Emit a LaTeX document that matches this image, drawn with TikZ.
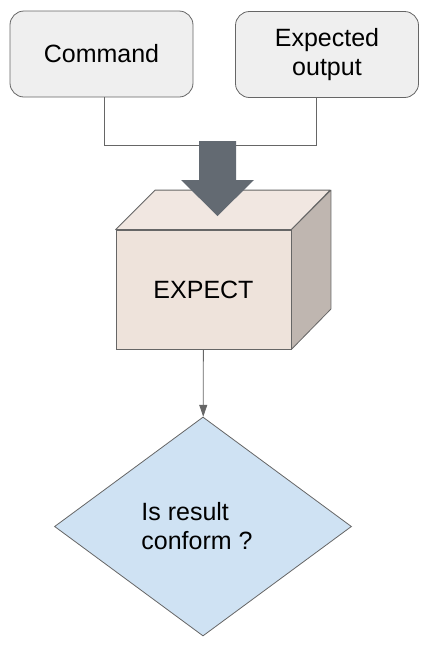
\documentclass[tikz,border=0pt]{standalone}
\usepackage{fontspec}
\setmainfont{Liberation Sans}
\usetikzlibrary{shapes,arrows.meta}
\definecolor{boxgray}{HTML}{EFEFEF}
\definecolor{linegray}{HTML}{666666}
\definecolor{arrowgray}{HTML}{636A72}
\definecolor{cubefront}{HTML}{EEE3DB}
\definecolor{cubetop}{HTML}{F1E7E1}
\definecolor{cubeside}{HTML}{BFB6B0}
\definecolor{askblue}{HTML}{CFE2F3}

\begin{document}
\begin{tikzpicture}
	[
		x=1pt, y=-1pt,
		every node/.style = {font=\fontsize{25}{29}\selectfont, draw=linegray, line width=0.8pt, inner sep=0pt},
		inbox/.style = {rounded corners=14pt, fill=boxgray, minimum width=183pt, minimum height=86pt, align=center},
		face/.style = {draw=linegray, line width=0.8pt, line join=round},
	]
  \useasboundingbox (0,0) rectangle (427,646);

  \node[inbox] (cmd) at (101.5,54) {Command};
  \node[inbox] (exp) at (327,54.5) {Expected\\output};
  \node[fill=cubefront, minimum width=175pt, minimum height=119pt] (expect) at (203.5,289.5) {EXPECT};
  \node[diamond, fill=askblue, minimum width=297pt, minimum height=219pt, align=left] (ask) at (203,526.5) {Is result\\conform ?\hspace*{12pt}};

  % top and side of the cube
  \filldraw[face, fill=cubetop] (expect.north west) -- ++(39.5,-39.5) -- ++(175,0) -- (expect.north east) -- cycle;
  \filldraw[face, fill=cubeside] (expect.north east) -- ++(39.5,-39.5) -- ++(0,119) -- (expect.south east) -- cycle;

  % inputs
  \coordinate (join) at (0,145);
  \draw[linegray, line width=0.8pt] ([xshift=2.5pt]cmd.south) |- (join -| 316,0) -- (316,0 |- exp.south);

  % merge arrow
  \fill[arrowgray] (199,141) -- (236,141) -- (236,180) -- (254,180) -- (217.5,216) -- (181,180) -- (199,180) -- cycle;

  \path[color=linegray, line width=0.8pt, -{Triangle[length=12pt,width=8pt]}]
  (expect) edge (ask);

\end{tikzpicture}
\end{document}
